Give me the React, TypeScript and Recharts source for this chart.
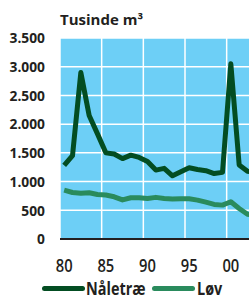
import React from 'react';
import { LineChart, Line, XAxis, YAxis, CartesianGrid } from 'recharts';

const years = [1980, 1981, 1982, 1983, 1984, 1985, 1986, 1987, 1988, 1989, 1990, 1991, 1992, 1993, 1994, 1995, 1996, 1997, 1998, 1999, 2000, 2001, 2002, 2003];
const naaletrae = [1280, 1450, 2900, 2150, 1830, 1500, 1480, 1400, 1460, 1420, 1350, 1200, 1230, 1100, 1170, 1240, 1210, 1190, 1140, 1160, 3050, 1290, 1180, 1150];
const loev = [850, 810, 795, 805, 775, 765, 735, 680, 718, 718, 707, 725, 707, 695, 700, 700, 677, 642, 602, 590, 648, 532, 432, 400];

const xTicks = [1980, 1985, 1990, 1995, 2000];
const gridTicks = [1984.5, 1989.5, 1994.5, 1999.5];
const yTicks = [0, 500, 1000, 1500, 2000, 2500, 3000, 3500];

const seriesNames = ['Nåletræ', 'Løv'];
const seriesColors = ['#034d22', '#2a8b5d'];

const FONT = '"Open Sans", sans-serif';
const INK = '#231f20';

const data = years.map((year, i) => ({ year, naaletrae: naaletrae[i], loev: loev[i] }));

const XTick = (props: any) => {
  const { x, y, payload } = props;
  return (
    <text
      transform={`translate(${x},${y}) scale(0.82,1)`}
      textAnchor="middle"
      dy="0.71em"
      fontFamily={FONT}
      fontWeight={600}
      fontSize={18}
      fill={INK}
    >
      {String(payload.value).slice(2)}
    </text>
  );
};

const YTick = (props: any) => {
  const { x, y, payload } = props;
  const label = payload.value >= 1000
    ? `${Math.floor(payload.value / 1000)}.${String(payload.value % 1000).padStart(3, '0')}`
    : String(payload.value);
  return (
    <text
      transform={`translate(${x},${y}) scale(0.92,1)`}
      textAnchor="end"
      dy="0.355em"
      fontFamily={FONT}
      fontWeight={700}
      fontSize={15}
      fill={INK}
    >
      {label}
    </text>
  );
};

export default function App() {
  return (
    <div style={{ position: 'absolute', left: 0, top: 0, width: 249, height: 295, overflow: 'hidden', background: '#fff' }}>
      <div style={{ position: 'absolute', left: 60, top: 12, fontFamily: FONT, fontWeight: 700, fontSize: 15, lineHeight: '15px', color: INK, whiteSpace: 'nowrap' }}>
        Tusinde m³
      </div>
      <LineChart width={260} height={295} data={data} margin={{ top: 38, right: 0, bottom: 0, left: 0 }}>
        <CartesianGrid xAxisId="grid" fill="#6dcff6" stroke="#ffffff" strokeWidth={1.5} />
        <XAxis
          dataKey="year"
          type="number"
          domain={[1979.5, 2003.5]}
          ticks={xTicks}
          allowDataOverflow
          height={56}
          tickSize={0}
          tickMargin={20}
          tickLine={false}
          axisLine={{ stroke: INK, strokeWidth: 2 }}
          tick={<XTick />}
          interval={0}
        />
        <XAxis
          xAxisId="grid"
          dataKey="year"
          type="number"
          domain={[1979.5, 2003.5]}
          ticks={gridTicks}
          allowDataOverflow
          hide
          interval={0}
        />
        <YAxis
          type="number"
          domain={[0, 3500]}
          ticks={yTicks}
          width={60}
          tickSize={0}
          tickMargin={15}
          tickLine={false}
          axisLine={false}
          tick={<YTick />}
          interval={0}
        />
        <Line
          type="linear"
          dataKey="naaletrae"
          name={seriesNames[0]}
          stroke={seriesColors[0]}
          strokeWidth={5}
          strokeLinejoin="round"
          dot={false}
          isAnimationActive={false}
        />
        <Line
          type="linear"
          dataKey="loev"
          name={seriesNames[1]}
          stroke={seriesColors[1]}
          strokeWidth={5}
          strokeLinejoin="round"
          dot={false}
          isAnimationActive={false}
        />
      </LineChart>
      {seriesNames.map((name, i) => (
        <React.Fragment key={name}>
          <div style={{ position: 'absolute', left: i === 0 ? 42 : 152, top: 286, width: 43, height: 5, borderRadius: 3, background: seriesColors[i] }} />
          <div style={{ position: 'absolute', left: i === 0 ? 86 : 197, top: 280, fontFamily: FONT, fontWeight: 700, fontSize: 17, lineHeight: '17px', color: INK, whiteSpace: 'nowrap', transform: 'scaleX(0.85)', transformOrigin: 'left' }}>
            {name}
          </div>
        </React.Fragment>
      ))}
    </div>
  );
}
